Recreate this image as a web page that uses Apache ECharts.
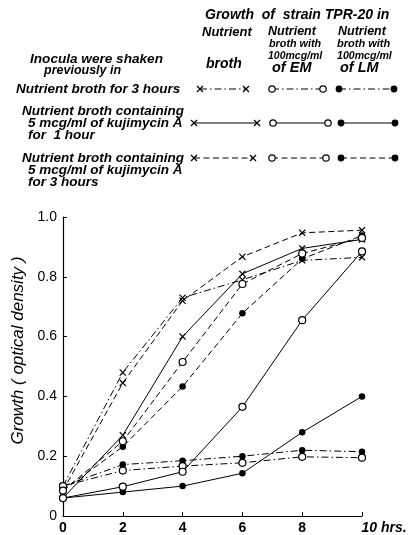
<!DOCTYPE html>
<html><head><meta charset="utf-8">
<script src="https://cdn.jsdelivr.net/npm/echarts@6/dist/echarts.min.js"></script>
<style>html,body{margin:0;padding:0;background:#fff}#c{width:414px;height:535px}</style>
</head><body><div id="c"></div>
<script>
// ---- data ----
const hours = [0, 2, 4, 6, 8, 10];
const yTickLabels = ['0', '0.2', '0.4', '0.6', '0.8', '1.0'];
// Inocula shaken in nutrient broth for 3 hours (dash-dot)
const broth3h_NB = [0.10, 0.48, 0.73, 0.79, 0.855, 0.865];
const broth3h_EM = [0.10, 0.152, 0.167, 0.178, 0.198, 0.195];
const broth3h_LM = [0.10, 0.172, 0.185, 0.200, 0.220, 0.215];
// kujimycin A 5 mcg/ml for 1 hour (solid)
const kuji1h_NB = [0.06, 0.27, 0.60, 0.81, 0.895, 0.925];
const kuji1h_EM = [0.06, 0.098, 0.148, 0.365, 0.655, 0.885];
const kuji1h_LM = [0.06, 0.080, 0.100, 0.143, 0.280, 0.400];
// kujimycin A 5 mcg/ml for 3 hours (dashed)
const kuji3h_NB = [0.085, 0.445, 0.72, 0.867, 0.947, 0.956];
const kuji3h_EM = [0.085, 0.250, 0.515, 0.776, 0.878, 0.930];
const kuji3h_LM = [0.085, 0.232, 0.433, 0.678, 0.860, 0.938];

// ---- styles ----
const FONT = 'Liberation Sans';
const DASHDOT = [7, 3, 1.5, 3];
const DASHED = [6, 3.5];
const XSYM = 'path://M0,1.2 L1.2,0 L5,3.8 L8.8,0 L10,1.2 L6.2,5 L10,8.8 L8.8,10 L5,6.2 L1.2,10 L0,8.8 L3.8,5 Z';

function mk(name, vals, dash, marker) {
  let symbol = XSYM, size = 7, itemStyle = {color: '#000'};
  if (marker === 'open') { symbol = 'circle'; size = 7; itemStyle = {color: '#fff', borderColor: '#000', borderWidth: 1.2}; }
  if (marker === 'fill') { symbol = 'circle'; size = 6.5; itemStyle = {color: '#000'}; }
  return {
    name, type: 'line', data: hours.map((h, i) => [h, vals[i]]),
    symbol, symbolSize: size, showAllSymbol: true, itemStyle,
    lineStyle: {color: '#000', width: 1, type: dash},
    animation: false, z: marker === 'open' ? 3 : 2
  };
}

const series = [
  mk('3h NB', broth3h_NB, DASHDOT, 'x'),
  mk('3h EM', broth3h_EM, DASHDOT, 'open'),
  mk('3h LM', broth3h_LM, DASHDOT, 'fill'),
  mk('1h NB', kuji1h_NB, 'solid', 'x'),
  mk('1h EM', kuji1h_EM, 'solid', 'open'),
  mk('1h LM', kuji1h_LM, 'solid', 'fill'),
  mk('k3h NB', kuji3h_NB, DASHED, 'x'),
  mk('k3h EM', kuji3h_EM, DASHED, 'open'),
  mk('k3h LM', kuji3h_LM, DASHED, 'fill')
];

// ---- legend/header graphics ----
function txt(s, x, y, fs) {
  return {type: 'text', x, y, style: {text: s, fontFamily: FONT, fontSize: fs, fontStyle: 'italic', fontWeight: 'bold', fill: '#000', textVerticalAlign: 'middle'}};
}
function markerEl(kind, cx, cy) {
  if (kind === 'x') {
    return [
      {type: 'line', shape: {x1: cx - 3, y1: cy - 3, x2: cx + 3, y2: cy + 3}, style: {stroke: '#000', lineWidth: 1.2}},
      {type: 'line', shape: {x1: cx - 3, y1: cy + 3, x2: cx + 3, y2: cy - 3}, style: {stroke: '#000', lineWidth: 1.2}}
    ];
  }
  if (kind === 'open') return [{type: 'circle', shape: {cx, cy, r: 3.2}, style: {fill: '#fff', stroke: '#000', lineWidth: 1.2}, z: 10}];
  return [{type: 'circle', shape: {cx, cy, r: 3.4}, style: {fill: '#000'}, z: 10}];
}
function sample(kind, x1, x2, y, dash) {
  return [{type: 'line', shape: {x1, y1: y, x2, y2: y}, style: {stroke: '#000', lineWidth: 1, lineDash: dash}}]
    .concat(markerEl(kind, x1, y), markerEl(kind, x2, y));
}

const rowDefs = [
  {y: 89, dash: DASHDOT, cols: [[200, 246], [272, 323], [339, 394]]},
  {y: 123, dash: null, cols: [[194, 257], [273, 328], [341, 395]]},
  {y: 158, dash: DASHED, cols: [[194, 253], [272, 326], [341, 395]]}
];
let graphics = [
  txt('Growth  of  strain TPR-20 in', 205, 15, 14),
  txt('Nutrient', 202, 32, 13), txt('Nutrient', 268, 32, 12.5), txt('Nutrient', 338, 32, 12.5),
  txt('broth with', 269, 44, 10.8), txt('broth with', 337, 44, 11),
  txt('broth', 206, 64, 14),
  txt('100mcg/ml', 268, 56, 10.5), txt('100mcg/ml', 337, 56, 10.6),
  txt('of EM', 272, 68, 14.5), txt('of LM', 340, 68, 14.5),
  txt('Inocula were shaken', 30, 59, 13.6), txt('previously in', 44, 71, 12.5),
  txt('Nutrient broth for 3 hours', 16, 89, 13.5),
  txt('Nutrient broth containing', 22, 111, 13.5), txt('5 mcg/ml of kujimycin A', 28, 123, 13.5), txt('for  1 hour', 28, 135, 13.5),
  txt('Nutrient broth containing', 22, 158, 13.5), txt('5 mcg/ml of kujimycin A', 28, 170, 13.5), txt('for 3 hours', 28, 182, 13.5)
];
const kinds = ['x', 'open', 'fill'];
rowDefs.forEach(r => r.cols.forEach((c, i) => { graphics = graphics.concat(sample(kinds[i], c[0], c[1], r.y, r.dash)); }));

const chart = echarts.init(document.getElementById('c'), null, {renderer: 'canvas'});
chart.setOption({
  animation: false,
  backgroundColor: '#fff',
  grid: {left: 63, right: 52, top: 217, bottom: 18, containLabel: false},
  xAxis: {
    type: 'value', min: 0, max: 10, interval: 2,
    axisLine: {lineStyle: {color: '#000', width: 1.2}},
    axisTick: {inside: true, length: 4, lineStyle: {color: '#000'}},
    splitLine: {show: false},
    axisLabel: {
      margin: 5, color: '#000', fontFamily: FONT, fontSize: 14, fontWeight: 'bold',
      formatter: v => v === 10 ? '{h|10 hrs.}' : String(v),
      rich: {h: {fontFamily: FONT, fontSize: 14, fontStyle: 'italic', color: '#000', padding: [0, 0, 0, 44]}}
    }
  },
  yAxis: {
    type: 'value', min: 0, max: 1, interval: 0.2,
    name: 'Growth ( optical density )', nameLocation: 'middle', nameGap: 30, nameRotate: 90,
    nameTextStyle: {fontFamily: FONT, fontSize: 17, fontStyle: 'italic', color: '#000', padding: [0, 0, 0, 32]},
    axisLine: {show: true, lineStyle: {color: '#000', width: 1.2}},
    axisTick: {show: true, inside: true, length: 4, lineStyle: {color: '#000'}},
    splitLine: {show: false},
    axisLabel: {margin: 6, color: '#000', fontFamily: FONT, fontSize: 14,
      formatter: v => yTickLabels[Math.round(v / 0.2)]}
  },
  graphic: graphics,
  series
});
</script></body></html>
